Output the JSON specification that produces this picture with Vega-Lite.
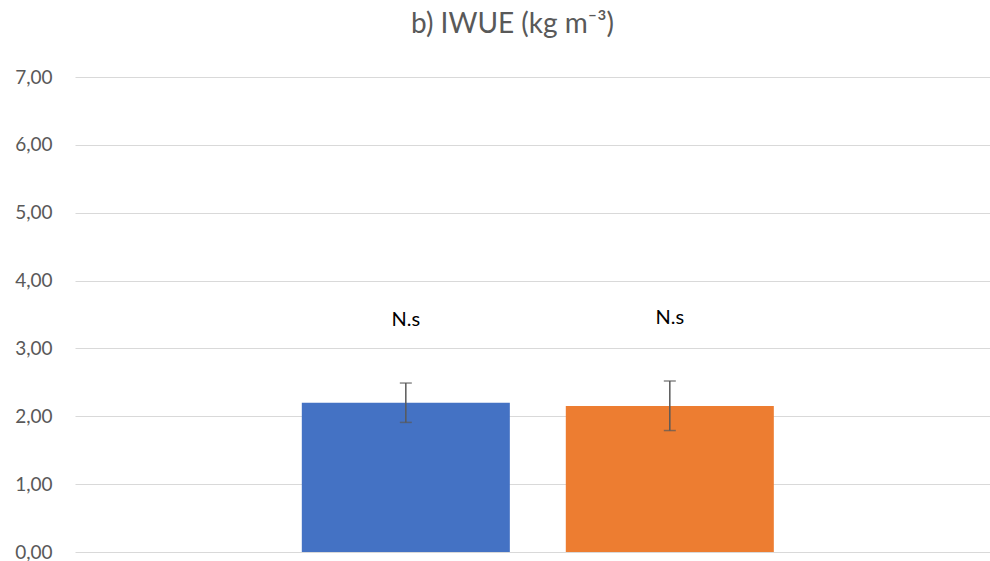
{
  "$schema": "https://vega.github.io/schema/vega-lite/v6.json",
  "autosize": {"type": "none"},
  "width": 915,
  "height": 475,
  "padding": {"left": 75, "top": 77, "right": 0, "bottom": 9},
  "background": "white",
  "config": {"view": {"stroke": null}},
  "title": {
    "text": "b) IWUE (kg m⁻³)",
    "font": "Lato",
    "fontSize": 28,
    "fontWeight": "normal",
    "color": "#595959",
    "anchor": "middle",
    "dx": -20,
    "offset": 29
  },
  "data": {
    "values": [
      {"group": "A", "mean": 2.20, "low": 1.91, "high": 2.49, "label": "N.s"},
      {"group": "B", "mean": 2.15, "low": 1.79, "high": 2.52, "label": "N.s"}
    ]
  },
  "encoding": {
    "x": {
      "field": "group",
      "type": "nominal",
      "axis": null,
      "scale": {"paddingInner": 0.212, "paddingOuter": 0.839, "align": 0.512}
    }
  },
  "layer": [
    {
      "mark": {"type": "bar"},
      "encoding": {
        "y": {
          "field": "mean",
          "type": "quantitative",
          "scale": {"domain": [0, 7]},
          "axis": {
            "title": null,
            "values": [0, 1, 2, 3, 4, 5, 6, 7],
            "labelOverlap": false,
            "domain": false,
            "ticks": false,
            "labelExpr": "replace(format(datum.value, '.2f'), '.', ',')",
            "labelFont": "Lato",
            "labelFontSize": 19,
            "labelColor": "#595959",
            "labelPadding": 23,
            "gridColor": "#d9d9d9",
            "gridWidth": 1
          }
        },
        "color": {
          "field": "group",
          "type": "nominal",
          "scale": {"domain": ["A", "B"], "range": ["#4472C4", "#ED7D31"]},
          "legend": null
        }
      }
    },
    {
      "mark": {"type": "rule", "color": "#595959", "strokeWidth": 1.5},
      "encoding": {
        "y": {"field": "low", "type": "quantitative"},
        "y2": {"field": "high"}
      }
    },
    {
      "mark": {"type": "tick", "color": "#595959", "size": 12, "thickness": 1.5},
      "encoding": {"y": {"field": "low", "type": "quantitative"}}
    },
    {
      "mark": {"type": "tick", "color": "#595959", "size": 12, "thickness": 1.5},
      "encoding": {"y": {"field": "high", "type": "quantitative"}}
    },
    {
      "mark": {"type": "text", "font": "Lato", "fontSize": 20, "color": "#000000", "baseline": "middle", "dy": -63},
      "encoding": {
        "y": {"field": "high", "type": "quantitative"},
        "text": {"field": "label"}
      }
    }
  ]
}
